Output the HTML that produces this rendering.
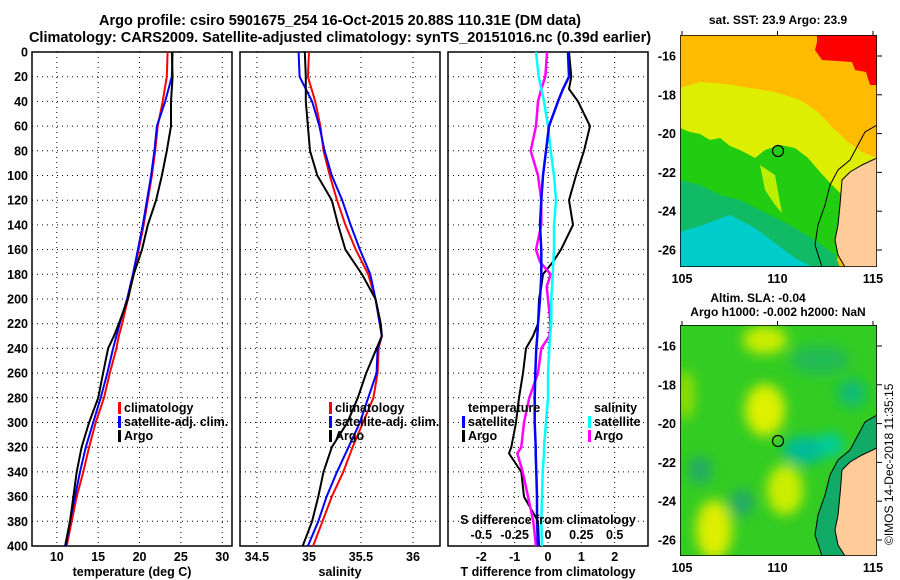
<!DOCTYPE html>
<html><head><meta charset="utf-8"><style>
body{margin:0;background:#fff;}
svg{display:block;font-family:"Liberation Sans",sans-serif;font-weight:bold;}
</style></head><body>
<svg id="c" width="900" height="580" viewBox="0 0 900 580">
<defs>
<filter id="bl" x="-50%" y="-50%" width="200%" height="200%"><feGaussianBlur stdDeviation="6"/></filter>
<clipPath id="cm1"><rect x="680" y="35" width="197" height="232"/></clipPath>
<clipPath id="cm2"><rect x="680" y="325" width="197" height="231"/></clipPath>
</defs>
<text x="340" y="25" font-size="14.5" text-anchor="middle">Argo profile: csiro 5901675_254 16-Oct-2015 20.88S 110.31E (DM data)</text>
<text x="340" y="42" font-size="14.5" text-anchor="middle">Climatology: CARS2009. Satellite-adjusted climatology: synTS_20151016.nc (0.39d earlier)</text>

<g clip-path="url(#cm1)">
<rect x="680" y="35" width="197" height="232" fill="#ffbb00"/>
<polygon fill="#ff0000" points="817,35 877,35 877,85 870,85 866,72 855,70 852,62 822,60 815,50 817,42"/>
<polygon fill="#ddee00" points="680,88 700,82 725,84 750,88 775,92 800,100 818,112 833,128 848,142 862,152 877,158 877,200 845,200 820,210 780,240 680,240"/>
<polygon fill="#22cc11" points="680,128 690,132 700,134 710,140 720,138 730,146 740,150 755,158 765,150 780,145 795,148 808,158 820,172 832,185 842,195 845,230 835,267 680,267"/>
<polygon fill="#bbee00" points="760,165 775,175 782,213 775,205 765,190"/>
<polygon fill="#11bb66" points="680,180 700,185 720,195 740,200 760,210 790,225 815,240 835,255 840,267 680,267"/>
<polygon fill="#00cccc" points="680,232 700,226 730,215 755,228 775,243 795,258 812,267 680,267"/>
<polygon fill="#ffcc99" stroke="#000" stroke-width="1" points="877,158 862,165 850,172 842,180 840,205 838,225 835,240 838,255 845,267 877,267"/>
<polyline fill="none" stroke="#000" stroke-width="1" points="877,125 865,132 858,145 850,160 838,170 830,185 825,205 818,225 815,245 822,267"/>
<rect x="680" y="35" width="197" height="232" fill="none" stroke="#000" stroke-width="1.5"/>
</g>
<circle cx="778" cy="151" r="5.5" fill="none" stroke="#000" stroke-width="1.2"/>
<text x="778" y="24" font-size="12" text-anchor="middle">sat. SST: 23.9 Argo: 23.9</text>

<g clip-path="url(#cm2)">
<rect x="680" y="325" width="197" height="231" fill="#33cc22"/>
<g filter="url(#bl)">
<ellipse cx="765" cy="340" rx="22" ry="14" fill="#ccee00"/>
<ellipse cx="765" cy="410" rx="20" ry="26" fill="#ddf000"/>
<ellipse cx="785" cy="490" rx="18" ry="25" fill="#ccee00"/>
<ellipse cx="714" cy="530" rx="18" ry="30" fill="#ddee00"/>
<ellipse cx="686" cy="395" rx="8" ry="25" fill="#99e000"/>
<ellipse cx="805" cy="450" rx="22" ry="14" fill="#00bb99"/>
<ellipse cx="830" cy="445" rx="14" ry="12" fill="#00cc99"/>
<ellipse cx="852" cy="393" rx="14" ry="14" fill="#11bb77"/>
<ellipse cx="700" cy="470" rx="12" ry="14" fill="#22aa66"/>
<ellipse cx="742" cy="503" rx="12" ry="14" fill="#22aa66"/>
<ellipse cx="820" cy="360" rx="30" ry="15" fill="#22bb55"/>
</g>
<polygon fill="#11aa66" points="877,448 862,455 850,462 842,470 840,495 838,515 835,530 838,545 845,556 822,556 815,535 818,515 825,495 830,475 838,460 850,450 858,435 865,422 877,415"/>
<polygon fill="#ffcc99" stroke="#000" stroke-width="1" points="877,448 862,455 850,462 842,470 840,495 838,515 835,530 838,545 845,556 877,556"/>
<polyline fill="none" stroke="#000" stroke-width="1" points="877,415 865,422 858,435 850,450 838,460 830,475 825,495 818,515 815,535 822,556"/>
<rect x="680" y="325" width="197" height="231" fill="none" stroke="#000" stroke-width="1.5"/>
</g>
<circle cx="778" cy="441" r="5.5" fill="none" stroke="#000" stroke-width="1.2"/>
<text x="758" y="302" font-size="12" text-anchor="middle">Altim. SLA: -0.04</text>
<text x="778" y="316" font-size="12" text-anchor="middle">Argo h1000: -0.002 h2000: NaN</text>
<text transform="translate(893,545) rotate(-90)" font-size="12" font-weight="normal">©IMOS 14-Dec-2018 11:35:15</text>
</svg>
<script>
const depths=[0,20,40,60,80,100,120,140,160,180,200,220,230,240,260,280,300,320,340,360,380,400];
const tClim=[23.4,23.3,22.8,22.2,21.9,21.5,21.0,20.5,19.9,19.3,18.6,17.9,17.5,17.2,16.4,15.7,14.7,13.9,13.2,12.4,11.8,11.2];
const tSat=[24.0,23.9,23.1,22.1,21.8,21.4,20.9,20.4,19.8,19.2,18.5,17.6,17.2,16.8,16.1,15.3,14.4,13.5,12.8,12.2,11.6,11.1];
const tArgo=[23.9,24.0,23.8,23.8,23.3,22.7,22.0,21.0,20.3,19.3,18.6,17.5,16.9,16.2,15.6,15.0,13.9,13.0,12.4,12.0,11.6,11.0];
const sClim=[35.00,34.99,35.06,35.11,35.14,35.20,35.27,35.35,35.45,35.57,35.64,35.69,35.70,35.67,35.66,35.62,35.52,35.42,35.33,35.22,35.13,35.04];
const sSat=[34.90,34.91,35.03,35.10,35.15,35.22,35.32,35.40,35.49,35.59,35.64,35.68,35.70,35.66,35.65,35.57,35.49,35.38,35.27,35.17,35.09,34.99];
const sArgo=[34.96,34.97,34.97,34.99,35.01,35.08,35.22,35.28,35.35,35.51,35.64,35.69,35.70,35.65,35.55,35.47,35.37,35.22,35.14,35.09,35.03,34.94];
const dDepths=[0,20,30,40,60,80,100,120,140,160,170,180,190,200,220,230,240,260,280,300,320,325,340,360,380,400];
const dtSat=[0.6,0.63,0.45,0.3,0.03,-0.06,-0.15,-0.2,-0.24,-0.2,-0.2,-0.2,-0.22,-0.24,-0.3,-0.32,-0.35,-0.38,-0.4,-0.4,-0.37,-0.37,-0.35,-0.33,-0.33,-0.3];
const dtArgo=[0.63,0.7,0.63,0.9,1.26,1.08,0.84,0.63,0.75,0.39,0.15,-0.15,-0.2,-0.27,-0.3,-0.45,-0.66,-0.75,-0.87,-0.96,-1.1,-1.17,-0.8,-0.72,-0.3,-0.27];
const dsSat=[-0.09,-0.07,-0.05,-0.03,0,0.02,0.045,0.06,0.045,0.045,0.04,0.035,0.03,0.025,0.025,0.015,0.01,0,0,-0.015,-0.03,-0.03,-0.04,-0.045,-0.05,-0.045];
const dsArgo=[-0.007,-0.02,-0.05,-0.075,-0.09,-0.13,-0.075,-0.05,-0.05,-0.09,-0.06,0.02,-0.01,0,0.02,0.01,-0.05,-0.075,-0.14,-0.18,-0.2,-0.23,-0.19,-0.15,-0.11,-0.09];
const depthTicks=[0,20,40,60,80,100,120,140,160,180,200,220,240,260,280,300,320,340,360,380,400];
const tTicks=[10,15,20,25,30];
const sTicks=[34.5,35,35.5,36];
const dtTicks=[-2,-1,0,1,2];
const dsTicks=[-0.5,-0.25,0,0.25,0.5];
const dsTickLabels=["-0.5","-0.25","0","0.25","0.5"];
const NS='http://www.w3.org/2000/svg';
const svg=document.getElementById('c');
function mk(tag,at,parent){const e=document.createElementNS(NS,tag);for(const k in at)e.setAttribute(k,at[k]);(parent||svg).appendChild(e);return e;}
function lin(d0,d1,r0,r1){return v=>r0+(v-d0)*(r1-r0)/(d1-d0);}
const y=lin(0,400,52,546);
const xT=lin(7,31.18,32,232), xS=lin(34.337,36.26,240,440), xDT=lin(-3,3,448,648), xDS=lin(-0.75,0.75,448,648);
const panels=[{x0:32,sc:xT,ticks:tTicks,lab:tTicks.map(String),title:'temperature (deg C)',name:'temperature-panel'},
{x0:240,sc:xS,ticks:sTicks,lab:sTicks.map(String),title:'salinity',name:'salinity-panel'},
{x0:448,sc:xDT,ticks:dtTicks,lab:dtTicks.map(String),title:'T difference from climatology',name:'difference-panel'}];
panels.forEach((p,pi)=>{
 const g=mk('g',{});
 
 
 depthTicks.forEach(d=>{const l=mk('line',{x1:p.x0,x2:p.x0+200,y1:y(d),y2:y(d),stroke:'#000','stroke-width':1,'stroke-dasharray':'1,4'},g);
  
  });
 p.ticks.forEach((t,i)=>{const l=mk('line',{x1:p.sc(t),x2:p.sc(t),y1:52,y2:546,stroke:'#000','stroke-width':1,'stroke-dasharray':'1,4'},g);
  
  
  const tx=mk('text',{x:p.sc(t),y:561,'font-size':12.5,'text-anchor':'middle'},g);tx.textContent=p.lab[i];
  
  });
 const tt=mk('text',{x:p.x0+100,y:576,'font-size':12.5,'text-anchor':'middle'},g);tt.textContent=p.title;
 
 
 const fr=mk('rect',{x:p.x0,y:52,width:200,height:494,fill:'none',stroke:'#000','stroke-width':1.5},g);
 
 
});
depthTicks.forEach(d=>{const t=mk('text',{x:28,y:y(d)+4.5,'font-size':12.5,'text-anchor':'end'});t.textContent=d;
 
 });
function line(xs,ds,sc,col,w,name){const pts=xs.map((v,i)=>sc(v).toFixed(1)+','+y(ds[i]).toFixed(1)).join(' ');
 const p=mk('polyline',{points:pts,fill:'none',stroke:col,'stroke-width':w,'stroke-linejoin':'round'});
 
 }
line(tClim,depths,xT,'#ff0000',2,'temp-climatology-line');
line(tSat,depths,xT,'#0000ff',2,'temp-satellite-line');
line(tArgo,depths,xT,'#000',2,'temp-argo-line');
line(sClim,depths,xS,'#ff0000',2,'sal-climatology-line');
line(sSat,depths,xS,'#0000ff',2,'sal-satellite-line');
line(sArgo,depths,xS,'#000',2,'sal-argo-line');
line(dtArgo,dDepths,xDT,'#000',2,'tdiff-argo-line');
line(dsArgo,dDepths,xDS,'#ff00ff',2.5,'sdiff-argo-line');
line(dsSat,dDepths,xDS,'#00ffff',2.5,'sdiff-satellite-line');
line(dtSat,dDepths,xDT,'#0000ff',2.5,'tdiff-satellite-line');
const sd=mk('text',{x:548,y:524,'font-size':12.5,'text-anchor':'middle'});sd.textContent='S difference from climatology';


dsTicks.forEach((t,i)=>{const tx=mk('text',{x:xDS(t),y:539,'font-size':12.5,'text-anchor':'middle'});tx.textContent=dsTickLabels[i];
 
 });
function leg(x,yy,col,txt,name){if(col){const r=mk('rect',{x:x-6,y:yy-10,width:3,height:12,fill:col});
 
 }
 const t=mk('text',{x:x,y:yy,'font-size':12.5});t.textContent=txt;
 
 }
leg(124,412,'#ff0000','climatology','legend-climatology');
leg(124,426,'#0000ff','satellite-adj. clim.','legend-satellite');
leg(124,440,'#000','Argo','legend-argo');
leg(335,412,'#ff0000','climatology','legend-climatology-2');
leg(335,426,'#0000ff','satellite-adj. clim.','legend-satellite-2');
leg(335,440,'#000','Argo','legend-argo-2');
leg(468,412,null,'temperature','legend-temperature-header');
leg(468,426,'#0000ff','satellite','legend-t-satellite');
leg(468,440,'#000','Argo','legend-t-argo');
leg(594,412,null,'salinity','legend-salinity-header');
leg(594,426,'#00ffff','satellite','legend-s-satellite');
leg(594,440,'#ff00ff','Argo','legend-s-argo');
const lonTicks=[105,110,115], latTicks=[-16,-18,-20,-22,-24,-26], latLabels=["-16","-18","-20","-22","-24","-26"];
const xLon=lin(105,115,682,873);
[[35,267,56,250],[325,556,346,540]].forEach((m,mi)=>{
 const yl=lin(-16,-26,m[2],m[3]);
 lonTicks.forEach(v=>{mk('line',{x1:xLon(v),x2:xLon(v),y1:m[0]-4,y2:m[0],stroke:'#000'});
  const t=mk('text',{x:xLon(v),y:m[1]+16,'font-size':12.5,'text-anchor':'middle'});t.textContent=v;
  
  });
 latTicks.forEach((v,i)=>{mk('line',{x1:877,x2:882,y1:yl(v),y2:yl(v),stroke:'#000'});
  const t=mk('text',{x:676,y:yl(v)+4.5,'font-size':12.5,'text-anchor':'end'});t.textContent=latLabels[i];
  
  });
});
</script>
</body></html>
